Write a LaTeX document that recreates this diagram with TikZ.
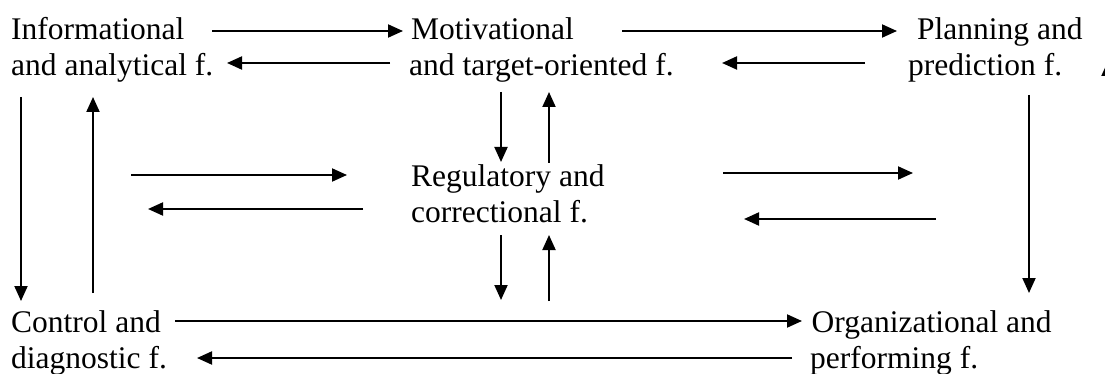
\documentclass[tikz,border=0pt]{standalone}
\usepackage{fontspec}
\setmainfont{Liberation Serif}
\usetikzlibrary{arrows.meta}
\begin{document}
\begin{tikzpicture}[x=1pt,y=-1pt,
  fn/.style={anchor=base west, inner sep=0pt, font=\fontsize{31.5}{36}\selectfont},
  conn/.style={line width=2pt, -{Triangle[length=15pt,width=13pt]}}]
\clip (0,0) rectangle (1105,374);
% function nodes
\node[fn] (info) at (11,39.5) {\begin{tabular}[t]{@{}l@{}}Informational\\and analytical f.\end{tabular}};
\node[fn] (motiv) at (409,39.5) {\begin{tabular}[t]{@{}l@{}}\hspace{2pt}Motivational\\and target-oriented f.\end{tabular}};
\node[fn] (plan) at (908,39.5) {\begin{tabular}[t]{@{}l@{}}\hspace{9pt}Planning and\\prediction f.\end{tabular}};
\node[fn] (reg) at (411,186) {\begin{tabular}[t]{@{}l@{}}Regulatory and\\correctional f.\end{tabular}};
\node[fn] (ctrl) at (11,332) {\begin{tabular}[t]{@{}l@{}}Control and\\diagnostic f.\end{tabular}};
\node[fn] (org) at (810,332) {\begin{tabular}[t]{@{}l@{}}\hspace{1.5pt}Organizational and\\performing f.\end{tabular}};
% connector end points
\coordinate (a1s) at (212,31);  \coordinate (a1e) at (403,31);
\coordinate (a2s) at (390,63);    \coordinate (a2e) at (227,63);
\coordinate (a3s) at (622,31);  \coordinate (a3e) at (897,31);
\coordinate (a4s) at (865,63);    \coordinate (a4e) at (722,63);
\coordinate (a5s) at (21,97);     \coordinate (a5e) at (21,301);
\coordinate (a6s) at (93,293);  \coordinate (a6e) at (93,97);
\coordinate (a7s) at (501,92);  \coordinate (a7e) at (501,162);
\coordinate (a8s) at (549,163); \coordinate (a8e) at (549,92);
\coordinate (a9s) at (131,175);   \coordinate (a9e) at (347,175);
\coordinate (a10s) at (363,209); \coordinate (a10e) at (148,209);
\coordinate (a11s) at (723,173); \coordinate (a11e) at (913,173);
\coordinate (a12s) at (936,219);   \coordinate (a12e) at (744,219);
\coordinate (a13s) at (501,235);   \coordinate (a13e) at (501,300);
\coordinate (a14s) at (549,301); \coordinate (a14e) at (549,235);
\coordinate (a15s) at (1029,95);     \coordinate (a15e) at (1029,293);
\coordinate (a16s) at (175,321);   \coordinate (a16e) at (802,321);
\coordinate (a17s) at (792,358); \coordinate (a17e) at (197,358);
\coordinate (a18s) at (1108,90);     \coordinate (a18e) at (1108,61);
% connectors
\foreach \i in {1,...,18} {\draw[conn] (a\i s) -- (a\i e);}
\end{tikzpicture}
\end{document}
